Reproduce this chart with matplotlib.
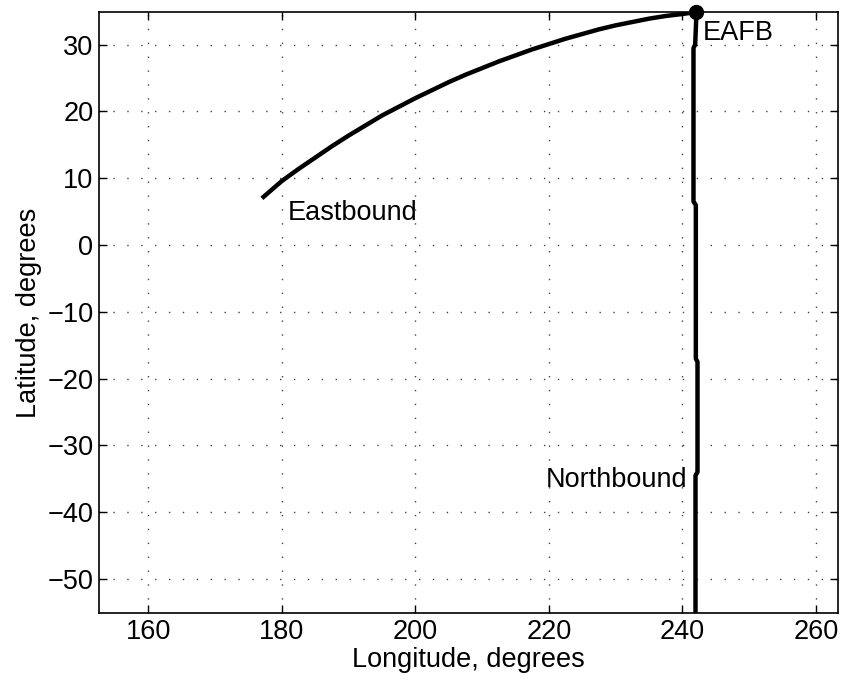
import matplotlib
matplotlib.use("Agg")
import matplotlib.pyplot as plt

plt.rcParams["font.family"] = ["Liberation Sans", "DejaVu Sans"]
plt.rcParams["axes.unicode_minus"] = True

# Eastbound trajectory (longitude, latitude in degrees)
east_lon = [177.0, 178.5, 180.0, 182.5, 185.0, 187.5, 190.0, 192.5, 195.0, 197.5,
            200.0, 202.5, 205.0, 207.5, 210.0, 212.5, 215.0, 217.5, 220.0, 222.5,
            225.0, 227.5, 230.0, 232.5, 235.0, 237.5, 240.0, 242.1]
east_lat = [7.0, 8.3, 9.6, 11.4, 13.1, 14.8, 16.4, 17.9, 19.4, 20.7,
            22.0, 23.2, 24.4, 25.5, 26.5, 27.5, 28.4, 29.3, 30.1, 30.9,
            31.6, 32.3, 32.9, 33.4, 33.9, 34.3, 34.6, 34.9]

# Northbound trajectory
north_lon = [241.95, 241.95, 242.25, 242.25, 242.0, 242.0, 241.65, 241.65, 241.9, 242.1]
north_lat = [-56.0, -34.5, -34.0, -17.5, -17.0, 6.0, 6.5, 29.5, 30.0, 34.9]

site_lon = [242.1]
site_lat = [34.9]

fig = plt.figure(figsize=(8.52, 6.88), dpi=100)
ax = fig.add_axes([0.1162, 0.109, 0.8674, 0.8736])

ax.plot(east_lon, east_lat, color="black", lw=3.2, solid_capstyle="butt")
ax.plot(north_lon, north_lat, color="black", lw=3.2, solid_capstyle="butt")
ax.plot(site_lon, site_lat, "o", color="black", ms=10, clip_on=False, zorder=5)

fs = 19.5
ax.text(243.0, 31.8, "EAFB", fontsize=fs, va="center", ha="left")
ax.text(180.8, 4.8, "Eastbound", fontsize=fs, va="center", ha="left")
ax.text(240.8, -35.2, "Northbound", fontsize=fs, va="center", ha="right")

ax.set_xlim(152.6, 263.3)
ax.set_ylim(-55.1, 34.9)
ax.set_xticks([160, 180, 200, 220, 240, 260])
ax.set_yticks([-50, -40, -30, -20, -10, 0, 10, 20, 30])
ax.grid(True, color="#444444", linestyle=(0, (1, 9)), linewidth=1.0)
ax.tick_params(direction="in", top=True, right=True, labelsize=fs, length=6, width=1, pad=4)
for s in ax.spines.values():
    s.set_linewidth(1.2)

ax.set_xlabel("Longitude, degrees", fontsize=fs, labelpad=2)
ax.set_ylabel("Latitude, degrees", fontsize=fs, labelpad=4)

fig.savefig("out.png", dpi=100)
